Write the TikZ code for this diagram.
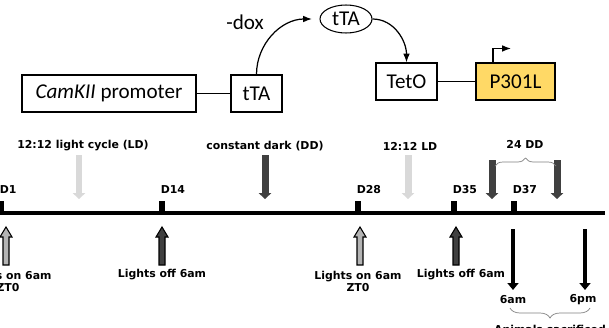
\documentclass[tikz,border=0pt]{standalone}
\usepackage{fontspec}
\setmainfont{Carlito}
\newfontfamily\lblfont{DejaVu Sans}
\usetikzlibrary{arrows.meta,shapes.geometric,decorations.pathreplacing}
\definecolor{transgene}{HTML}{FFD966}
\definecolor{lightarr}{HTML}{D9D9D9}
\definecolor{darkarr}{HTML}{404040}
\definecolor{lightup}{HTML}{B4B4B4}
\tikzset{
  box/.style={draw,line width=0.6pt,minimum height=0.74cm,inner sep=0pt,font=\fontsize{12}{14}\selectfont},
  lbl/.style={inner sep=1pt,font=\lblfont\bfseries\fontsize{6.2}{6.8}\selectfont},
  daytick/.style={fill=black,minimum width=0.12cm,minimum height=0.24cm,inner sep=0pt},
  shade/.style={line width=0.14cm,-{Triangle[width=0.25cm,length=0.12cm]}},
  sample/.style={line width=0.08cm,-{Triangle[width=0.22cm,length=0.14cm]}},
}

\begin{document}
\begin{tikzpicture}[x=0.02cm,y=-0.02cm]
	\useasboundingbox (0,0) rectangle (609,328);
	\clip (0,0) rectangle (609,328);
	\node[box,minimum width=3.48cm] (prom) at (109,93.5) {\textit{CamKII} promoter};
	\node[box,minimum width=1.02cm] (tta) at (256.5,93.5) {tTA};
	\node[draw,ellipse,line width=0.6pt,minimum width=1.04cm,minimum height=0.56cm,inner sep=0pt,font=\fontsize{12}{14}\selectfont] (ttap) at (346,19) {tTA};
	\node[box,minimum width=1.22cm] (teto) at (406.5,81.5) {TetO};
	\node[box,fill=transgene,minimum width=1.58cm] (p301l) at (515.5,81.5) {P301L};
	\node[font=\fontsize{12}{14}\selectfont] (dox) at (245,22) {-dox};
	\draw[line width=0.6pt] (prom) -- (tta);
	\draw[line width=0.6pt] (teto) -- (p301l);
	\draw[line width=0.7pt,-{Latex[length=5pt]}] (tta.north) to[out=90,in=180] ([xshift=-0.15cm]ttap.west);
	\draw[line width=0.7pt,-{Latex[length=5pt]}] (ttap.east) to[out=0,in=90] (teto.north);
	\draw[line width=0.7pt,-{Latex[length=5pt]}] ([xshift=-0.45cm]p301l.north) -- ++(0,-14) -- ++(18,0);

	\coordinate (t0) at (0,213);
	\coordinate (t1) at (605,213);
	\draw[line width=0.08cm] (t0) -- (t1);
	\foreach \x/\d in {1/1,162/14,358/28,454/35,514/37}{
		\node[daytick,anchor=south] (d\d) at (\x,213) {};
		\node[lbl,anchor=south west] (ld\d) at ([yshift=0.1cm]d\d.north west) {D\d};
	}
	\node[lbl] (ld) at (83,146) {12:12 light cycle (LD)};
	\node[lbl] (dd) at (265,146) {constant dark (DD)};
	\node[lbl] (ld2) at (410,146) {12:12 LD};
	\node[lbl] (dd24) at (525,144) {24 DD};
	\draw[shade,lightarr] (79,155) -- (79,199);
	\draw[shade,darkarr] (265,155) -- (265,199);
	\draw[shade,lightarr] (408,155) -- (408,199);
	\draw[shade,darkarr] (492,160) -- (492,199);
	\draw[shade,darkarr] (557,160) -- (557,199);
	\draw[gray,decorate,decoration={brace,amplitude=0.16cm}] (495,166) -- (556,166);

	\foreach \x/\c in {6/lightup,162/darkarr,360/lightup,456/darkarr}
		\filldraw[fill=\c,line width=0.6pt] (\x-3,265) -- (\x-3,237) -- (\x-6,237) -- (\x,227) -- (\x+6,237) -- (\x+3,237) -- (\x+3,265) -- cycle;
	\node[lbl,align=center] (on1) at (8,281) {Lights on 6am\\ZT0};
	\node[lbl] (off1) at (162,275) {Lights off 6am};
	\node[lbl,align=center] (on2) at (358,281) {Lights on 6am\\ZT0};
	\node[lbl] (off2) at (461,275) {Lights off 6am};

	\draw[sample] (513,229) -- (513,290);
	\draw[sample] (585,229) -- (585,290);
	\node[lbl] (am) at (513,300) {6am};
	\node[lbl] (pm) at (583,300) {6pm};
	\draw[gray,decorate,decoration={brace,amplitude=0.2cm}] (590,308) -- (510,308);
	\node[lbl,anchor=north] (sac) at (550,323) {Animals sacrificed};
\end{tikzpicture}
\end{document}
